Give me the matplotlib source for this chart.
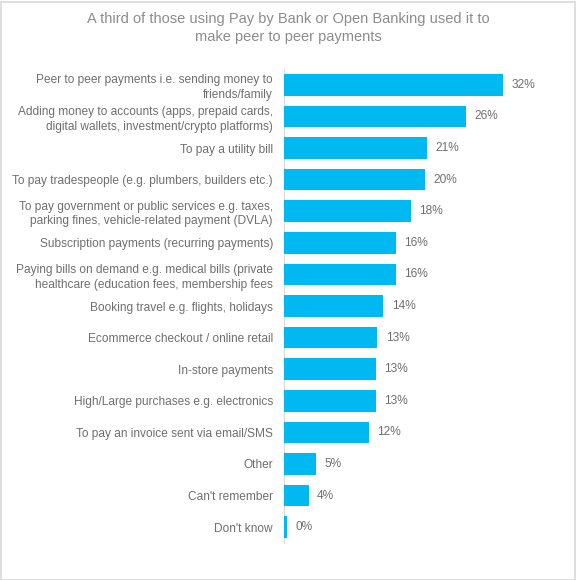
import matplotlib
matplotlib.use("Agg")
import matplotlib.pyplot as plt
from matplotlib.patches import Rectangle

categories = [
    "Peer to peer payments i.e. sending money to\nfriends/family",
    "Adding money to accounts (apps, prepaid cards,\ndigital wallets, investment/crypto platforms)",
    "To pay a utility bill",
    "To pay tradespeople (e.g. plumbers, builders etc.)",
    "To pay government or public services e.g. taxes,\nparking fines, vehicle-related payment (DVLA)",
    "Subscription payments (recurring payments)",
    "Paying bills on demand e.g. medical bills (private\nhealthcare (education fees, membership fees",
    "Booking travel e.g. flights, holidays",
    "Ecommerce checkout / online retail",
    "In-store payments",
    "High/Large purchases e.g. electronics",
    "To pay an invoice sent via email/SMS",
    "Other",
    "Can't remember",
    "Don't know",
]
values = [32, 26.5, 20.9, 20.6, 18.5, 16.3, 16.3, 14.5, 13.6, 13.4, 13.4, 12.4, 4.7, 3.6, 0.4]
labels = ["32%", "26%", "21%", "20%", "18%", "16%", "16%", "14%", "13%", "13%", "13%", "12%", "5%", "4%", "0%"]

plt.rcParams['font.family'] = ['Liberation Sans', 'DejaVu Sans']

W, H = 576, 580
fig = plt.figure(figsize=(W/100, H/100), dpi=100)
fig.patches.append(Rectangle((0.5/W, 0.5/H), 1-2/W, 1-2/H, transform=fig.transFigure,
                             fill=False, edgecolor="#D9D9D9", linewidth=1.2))

left, right, top, bottom = 284, 524, 69, 543
ax = fig.add_axes([left/W, 1-bottom/H, (right-left)/W, (bottom-top)/H])
y = list(range(len(categories)))
ax.barh(y, values, height=0.68, color="#00B9F1", linewidth=0, zorder=3)
ax.set_ylim(len(categories)-0.5, -0.5)
ax.set_xlim(0, 35)
ax.set_yticks(y)
ax.set_yticklabels(categories, fontsize=8.6, color="#6F6F6F", linespacing=1.3)
ax.tick_params(axis='y', length=0, pad=8)
ax.set_xticks([])
for s in ["top", "right", "bottom"]:
    ax.spines[s].set_visible(False)
ax.spines["left"].set_color("#D9D9D9")
ax.spines["left"].set_zorder(1)
for yi, v, lab in zip(y, values, labels):
    ax.annotate(lab, (v, yi), xytext=(6, 0), textcoords="offset points",
                va="center", ha="left", fontsize=8.6, color="#6F6F6F")

fig.text(0.5, 1-28/H, "A third of those using Pay by Bank or Open Banking used it to\nmake peer to peer payments",
         ha="center", va="center", fontsize=10.5, color="#8C8C8C", linespacing=1.35)

fig.savefig("out.png", dpi=100)
